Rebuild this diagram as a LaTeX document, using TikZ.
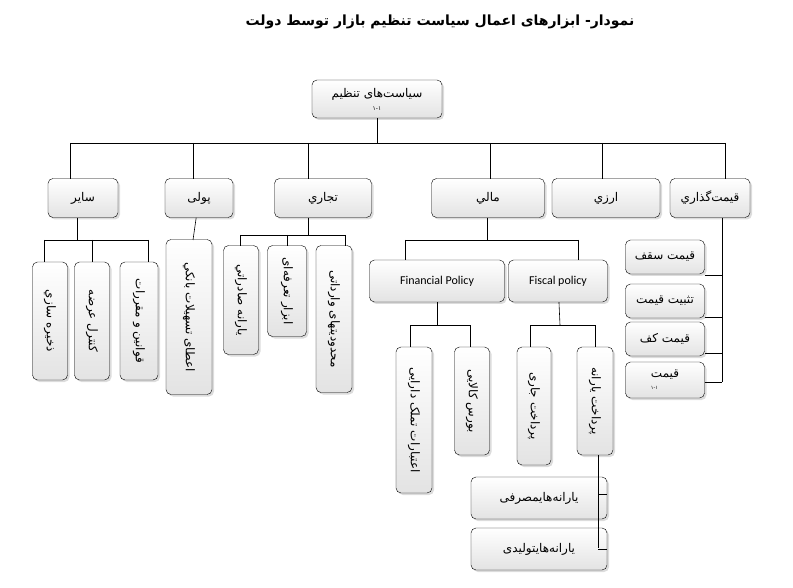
\documentclass[tikz,border=0pt]{standalone}
\usepackage{fontspec}
\setmainfont{Carlito}
\newfontfamily\fa[Script=Arabic]{DejaVu Sans}
\usetikzlibrary{shadows}
\TeXXeTstate=1
\newcommand{\rl}[1]{{\fa\beginR #1\endR}}
\tikzset{
  box/.style={draw, rounded corners=5pt, top color=white, bottom color=gray!22,
    drop shadow={shadow xshift=2pt, shadow yshift=-2pt, fill=gray!55},
    font=\fontsize{12}{14}\selectfont, inner sep=2pt, align=center},
  vbox/.style={box, rotate=-90},
  link/.style={line width=0.6pt}
}
\begin{document}
\begin{tikzpicture}[x=1pt, y=-1pt]
  \useasboundingbox (0,0) rectangle (793,588);
  \node[font=\bfseries\fontsize{14}{16}\selectfont] (title) at (440,22)
    {\rl{نمودار- ابزارهای اعمال سیاست تنظیم بازار توسط دولت}};
  % root
  \node[box, minimum width=130pt, minimum height=38pt] (root) at (377,99)
    {\rl{سیاست‌های تنظیم}\\[-1pt]{\fontsize{6}{6}\selectfont\rl{۱-۱}}};
  % level one
  \node[box, minimum width=70pt,  minimum height=39pt] (other) at (83,198)  {\rl{سایر}};
  \node[box, minimum width=68pt,  minimum height=39pt] (money) at (199,198) {\rl{پولی}};
  \node[box, minimum width=97pt,  minimum height=39pt] (trade) at (323,198) {\rl{تجاري}};
  \node[box, minimum width=113pt, minimum height=39pt] (fin)   at (488,198) {\rl{مالي}};
  \node[box, minimum width=108pt, minimum height=39pt] (curr)  at (606,198) {\rl{ارزي}};
  \node[box, minimum width=80pt,  minimum height=39pt] (price) at (710,198) {\rl{قیمت‌گذاري}};
  \coordinate (busL) at (70,143);
  \coordinate (busR) at (725,143);
  \draw[link] (root) -- (root|-busL);
  \draw[link] (busL) -- (busR);
  \foreach \n/\x in {other/70, money/193, trade/308, fin/490, curr/602, price/725}
    \draw[link] (\x,143) -- (\x,179);
  % other
  \node[vbox, minimum width=118pt, minimum height=35pt] (store) at (50,321)  {\rl{ذخیره سازي}};
  \node[vbox, minimum width=118pt, minimum height=35pt] (suppl) at (92,321)  {\rl{کنترل عرضه}};
  \node[vbox, minimum width=118pt, minimum height=38pt] (laws)  at (139,321) {\rl{قوانین و مقررات}};
  \draw[link] (77,218) -- (77,240);
  \draw[link] (44,240) -- (148,240);
  \foreach \x in {44,92,148} \draw[link] (\x,240) -- (\x,262);
  % money
  \node[vbox, minimum width=155pt, minimum height=46pt] (loan) at (189,317) {\rl{اعطای تسهیلات بانکي}};
  \draw[link] (money) -- (193,240);
  % trade
  \node[vbox, minimum width=109pt, minimum height=35pt] (sub)  at (241,300) {\rl{یارانه صادراتي}};
  \node[vbox, minimum width=91pt,  minimum height=39pt] (tar)  at (287,291) {\rl{ابزار تعرفه‌ای}};
  \node[vbox, minimum width=147pt, minimum height=36pt] (imp)  at (334,319) {\rl{محدودیتهای وارداتی}};
  \draw[link] (308,218) -- (308,235);
  \draw[link] (240,235) -- (345,235);
  \foreach \x in {240,287,345} \draw[link] (\x,235) -- (\x,246);
  % fin
  \node[box, minimum width=135pt, minimum height=42pt] (finpol) at (437,281) {Financial Policy};
  \node[box, minimum width=99pt,  minimum height=42pt] (fispol) at (558,281) {Fiscal policy};
  \draw[link] (487,218) -- (487,240);
  \draw[link] (405,240) -- (578,240);
  \draw[link] (405,240) -- (405,260);
  \draw[link] (578,240) -- (578,260);
  \node[vbox, minimum width=146pt, minimum height=36pt] (asset) at (414,420) {\rl{اعتبارات تملک دارایی}};
  \node[vbox, minimum width=108pt, minimum height=35pt] (bourse) at (472,401) {\rl{بورس کالایی}};
  \draw[link] (finpol) -- (437,325);
  \draw[link] (410,325) -- (470,325);
  \foreach \x in {410,470} \draw[link] (\x,325) -- (\x,347);
  \node[vbox, minimum width=118pt, minimum height=34pt] (curpay) at (534,406) {\rl{پرداخت جاری}};
  \node[vbox, minimum width=108pt, minimum height=36pt] (subpay) at (595,401) {\rl{پرداخت یارانه}};
  \draw[link] (fispol) -- (560,325);
  \draw[link] (530,325) -- (595,325);
  \foreach \x in {530,595} \draw[link] (\x,325) -- (\x,347);
  \node[box, minimum width=136pt, minimum height=42pt] (cons) at (539,498) {\rl{یارانه‌هایمصرفی}};
  \node[box, minimum width=136pt, minimum height=42pt] (prod) at (539,549) {\rl{یارانه‌هایتولیدی}};
  \draw[link] (598,455) -- (598,548);
  \draw[link] (cons.east|-598,494) -- (598,494);
  \draw[link] (prod.east) -- (598,549);
  % price
  \node[box, minimum width=79pt, minimum height=34pt] (ceil)  at (665,257) {\rl{قیمت سقف}};
  \node[box, minimum width=79pt, minimum height=34pt] (stab)  at (665,301) {\rl{تثبیت قیمت}};
  \node[box, minimum width=79pt, minimum height=34pt] (floor) at (665,339) {\rl{قیمت کف}};
  \node[box, minimum width=79pt, minimum height=36pt, align=left] (misc) at (665,380)
    {\rl{قیمت}\\[-2pt]{\fontsize{5}{5}\selectfont\rl{۱-۱}}};
  \draw[link] (722,218) -- (722,382);
  \foreach \n/\y in {ceil/275, stab/317, floor/353, misc/382}
    \draw[link] (\n.east|-0,\y) -- (722,\y);
\end{tikzpicture}
\end{document}
